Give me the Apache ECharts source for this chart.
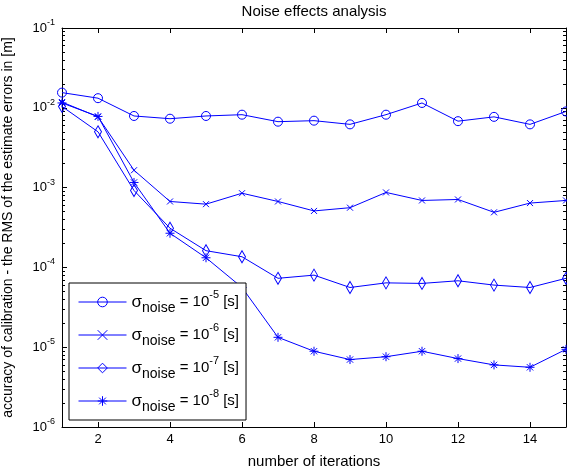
<!DOCTYPE html>
<html>
<head>
<meta charset="utf-8">
<title>Noise effects analysis</title>
<script src="https://cdn.jsdelivr.net/npm/echarts@6/dist/echarts.min.js"></script>
<style>
  html, body { margin: 0; padding: 0; background: #fff; }
  #chart { width: 567px; height: 471px; }
</style>
</head>
<body>
<div id="chart"></div>
<script>
// iterations on x, RMS error [m] on y (log scale)
const iterations = [1, 2, 3, 4, 5, 6, 7, 8, 9, 10, 11, 12, 13, 14, 15];
const rmsNoise5 = [0.0155, 0.0132, 0.0079, 0.0073, 0.0079, 0.0082, 0.0067, 0.0069, 0.0062, 0.0082, 0.0115, 0.0068, 0.0077, 0.0062, 0.0090];
const rmsNoise6 = [0.0118, 0.0077, 0.00165, 0.00067, 0.00062, 0.00085, 0.00067, 0.00051, 0.00056, 0.00087, 0.00069, 0.00071, 0.00049, 0.00064, 0.00069];
const rmsNoise7 = [0.0104, 0.0050, 0.00092, 0.00031, 0.000162, 0.000136, 0.000073, 0.000080, 0.000056, 0.000064, 0.000063, 0.000068, 0.000060, 0.000056, 0.000073];
const rmsNoise8 = [0.0115, 0.0078, 0.00116, 0.000268, 0.000132, 0.000056, 0.0000133, 0.0000089, 0.0000070, 0.0000076, 0.0000089, 0.0000072, 0.0000060, 0.0000056, 0.0000094];
const noiseExps = ['-5', '-6', '-7', '-8'];
const xTicks = [2, 4, 6, 8, 10, 12, 14];
const yDecades = [-6, -5, -4, -3, -2, -1];

const blue = '#0000ff';
const font = 'Liberation Sans, Arial, sans-serif';

// minor ticks at 2..9 of every decade, as exponents
const minorTicks = [];
for (let d = -6; d < -1; d++) {
  for (let m = 2; m <= 9; m++) minorTicks.push(d + Math.log10(m));
}

const pairs = arr => iterations.map((x, i) => [x, arr[i]]);

const markers = [
  { symbol: 'circle', size: 9 },
  { symbol: 'path://M0,0L10,10M10,0L0,10', size: 6 },
  { symbol: 'diamond', size: [7, 12] },
  { symbol: 'path://M5,0L5,10M0,5L10,5M1.5,1.5L8.5,8.5M8.5,1.5L1.5,8.5', size: 9 }
];
const seriesData = [rmsNoise5, rmsNoise6, rmsNoise7, rmsNoise8];

const series = seriesData.map((arr, i) => ({
  name: noiseExps[i],
  type: 'line',
  xAxisIndex: 0,
  yAxisIndex: 0,
  data: pairs(arr),
  symbol: markers[i].symbol,
  symbolSize: markers[i].size,
  clip: false,
  animation: false,
  lineStyle: { color: blue, width: 1 },
  itemStyle: { color: 'rgba(0,0,0,0)', borderColor: blue, borderWidth: 1 },
  emphasis: { disabled: true }
}));

const chart = echarts.init(document.getElementById('chart'));

const option = {
  backgroundColor: '#fff',
  animation: false,
  title: {
    text: 'Noise effects analysis',
    left: 314,
    top: 4,
    padding: 0,
    textAlign: 'center',
    textStyle: { fontFamily: font, fontSize: 15, fontWeight: 'normal', color: '#000' }
  },
  grid: { left: 62, right: 1, top: 28, bottom: 44, containLabel: false, outerBoundsMode: 'none' },
  legend: {
    orient: 'vertical',
    left: 69,
    top: 283,
    backgroundColor: '#fff',
    borderColor: '#000',
    borderWidth: 1,
    borderRadius: 0,
    padding: [6, 7, 6, 9],
    itemWidth: 48,
    itemHeight: 12,
    itemGap: 7,
    data: noiseExps,
    lineStyle: { width: 1 },
    itemStyle: { borderWidth: 1 },
    formatter: name => '{sig|σ}{sub|noise}{eq| = 10}{sup|' + name + '}{eq| [s]}',
    textStyle: {
      fontFamily: font,
      color: '#000',
      rich: {
        sig: { fontFamily: font, fontSize: 17, lineHeight: 26 },
        sub: { fontFamily: font, fontSize: 14, lineHeight: 10, verticalAlign: 'bottom' },
        eq: { fontFamily: font, fontSize: 15, lineHeight: 26 },
        sup: { fontFamily: font, fontSize: 11, lineHeight: 14, verticalAlign: 'top' }
      }
    }
  },
  xAxis: [
    {
      type: 'value',
      min: 1,
      max: 15,
      position: 'bottom',
      name: 'number of iterations',
      nameLocation: 'middle',
      nameGap: 27,
      nameTextStyle: { fontFamily: font, fontSize: 15, color: '#000' },
      axisLine: { lineStyle: { color: '#000', width: 1 } },
      axisTick: { inside: true, length: 5, customValues: xTicks, lineStyle: { color: '#000' } },
      axisLabel: { customValues: xTicks, margin: 6, fontFamily: font, fontSize: 13, color: '#000' },
      splitLine: { show: false }
    },
    {
      type: 'value',
      min: 1,
      max: 15,
      position: 'top',
      axisLine: { lineStyle: { color: '#000', width: 1 } },
      axisTick: { inside: true, length: 5, customValues: xTicks, lineStyle: { color: '#000' } },
      axisLabel: { show: false },
      splitLine: { show: false }
    }
  ],
  yAxis: [
    {
      type: 'log',
      logBase: 10,
      min: 1e-6,
      max: 1e-1,
      position: 'left',
      name: 'accuracy of calibration - the RMS of the estimate errors in [m]',
      nameLocation: 'middle',
      nameRotate: 90,
      nameGap: 47,
      nameTextStyle: { fontFamily: font, fontSize: 14, color: '#000' },
      axisLine: { lineStyle: { color: '#000', width: 1 } },
      axisTick: { inside: true, length: 5, lineStyle: { color: '#000' } },
      axisLabel: {
        margin: 7,
        formatter: v => '{b|10}{s|' + Math.round(Math.log10(v)) + '}',
        rich: {
          b: { fontFamily: font, fontSize: 13, lineHeight: 20, color: '#000' },
          s: { fontFamily: font, fontSize: 9, lineHeight: 10, verticalAlign: 'top', color: '#000' }
        }
      },
      splitLine: { show: false }
    },
    {
      type: 'value',
      min: yDecades[0],
      max: yDecades[yDecades.length - 1],
      position: 'left',
      axisLine: { show: false },
      axisTick: { inside: true, length: 3, customValues: minorTicks, lineStyle: { color: '#000' } },
      axisLabel: { show: false },
      splitLine: { show: false }
    },
    {
      type: 'log',
      logBase: 10,
      min: 1e-6,
      max: 1e-1,
      position: 'right',
      axisLine: { lineStyle: { color: '#000', width: 1 } },
      axisTick: { inside: true, length: 5, lineStyle: { color: '#000' } },
      axisLabel: { show: false },
      splitLine: { show: false }
    },
    {
      type: 'value',
      min: yDecades[0],
      max: yDecades[yDecades.length - 1],
      position: 'right',
      axisLine: { show: false },
      axisTick: { inside: true, length: 3, customValues: minorTicks, lineStyle: { color: '#000' } },
      axisLabel: { show: false },
      splitLine: { show: false }
    }
  ],
  series: series
};

chart.setOption(option);
</script>
</body>
</html>
